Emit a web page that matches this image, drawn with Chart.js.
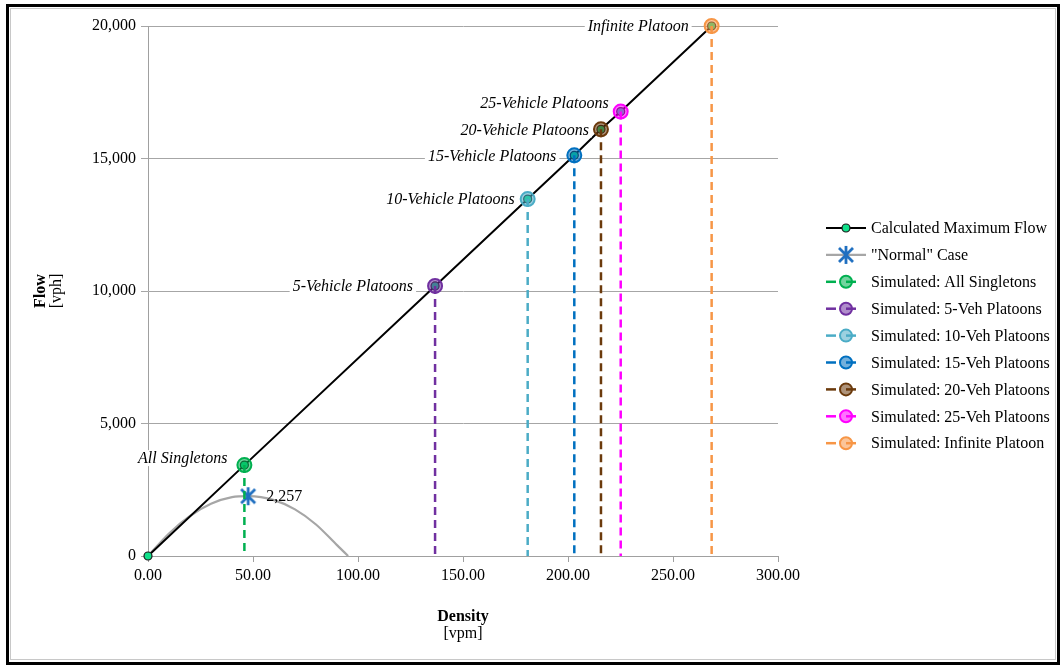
<!DOCTYPE html>
<html>
<head>
<meta charset="utf-8">
<title>Flow vs Density</title>
<script src="https://cdn.jsdelivr.net/npm/chart.js@4/dist/chart.umd.min.js"></script>
<style>
  html, body { margin: 0; padding: 0; background: #ffffff; }
  #wrap { position: relative; width: 1060px; height: 666px; }
</style>
</head>
<body>
<div id="wrap"><canvas id="chart" width="1060" height="666"></canvas></div>
<script>
// ---- data ----
const simulatedNames = ['All Singletons', '5-Veh Platoons', '10-Veh Platoons', '15-Veh Platoons',
                        '20-Veh Platoons', '25-Veh Platoons', 'Infinite Platoon'];
const pointLabels = ['All Singletons', '5-Vehicle Platoons', '10-Vehicle Platoons', '15-Vehicle Platoons',
                     '20-Vehicle Platoons', '25-Vehicle Platoons', 'Infinite Platoon'];
const simDensity = [45.9, 136.7, 180.8, 203.0, 215.7, 225.1, 268.4];   // vpm
const simFlow    = [3430, 10190, 13470, 15120, 16100, 16770, 20000];   // vph

const normalDensity = [0, 10, 20, 30, 40, 47.7, 60, 70, 80, 90, 95.3];
const normalFlow    = [0, 850, 1510, 1970, 2220, 2257, 2110, 1760, 1190, 410, 0];
const normalPeakIndex = 5;

const xTickValues = [0, 50, 100, 150, 200, 250, 300];
const yTickValues = [0, 5000, 10000, 15000, 20000];

// ---- styles ----
const simColors = ['#00b050', '#7030a0', '#4bacc6', '#0070c0', '#6b3a0c', '#ff00ff', '#f79646'];
const simFills  = ['rgba(0,176,80,0.55)', 'rgba(112,48,160,0.55)', 'rgba(75,172,198,0.55)',
                   'rgba(0,112,192,0.55)', 'rgba(107,58,12,0.55)', 'rgba(255,0,255,0.55)',
                   'rgba(247,150,70,0.55)'];
// label placement: [dx to right edge of text, dy of text centre], px relative to the marker
const labelOffsets = [[-17, -7], [-22, 0], [-13, 0], [-18, 0], [-12, 0], [-12, -9], [-23, 0]];

const SERIF = '"Liberation Serif", "Times New Roman", serif';

// asterisk-like marker for the "Normal" case peak
function makeStarMarker(color) {
  const c = document.createElement('canvas');
  c.width = 20; c.height = 20;
  const g = c.getContext('2d');
  g.strokeStyle = color; g.lineWidth = 2.8; g.lineCap = 'butt';
  g.beginPath();
  g.moveTo(3, 3); g.lineTo(17, 17);
  g.moveTo(17, 3); g.lineTo(3, 17);
  g.moveTo(10, 1); g.lineTo(10, 19);
  g.stroke();
  return c;
}
const starMarker = makeStarMarker('#1f6fc0');

// ---- datasets ----
const calcPoints = [{x: 0, y: 0}].concat(simDensity.map((d, i) => ({x: d, y: simFlow[i]})));
const normalPoints = normalDensity.map((d, i) => ({x: d, y: normalFlow[i]}));

const datasets = [
  {
    label: 'Calculated Maximum Flow',
    data: calcPoints,
    showLine: true,
    borderColor: '#000000',
    borderWidth: 2,
    pointRadius: 4,
    pointBackgroundColor: '#10e08a',
    pointBorderColor: '#1a1a1a',
    pointBorderWidth: 1.2,
    order: 2,
    clip: false
  },
  {
    label: '"Normal" Case',
    data: normalPoints,
    showLine: true,
    borderColor: '#a6a6a6',
    borderWidth: 2.2,
    cubicInterpolationMode: 'monotone',
    pointStyle: starMarker,
    pointRadius: normalPoints.map((p, i) => i === normalPeakIndex ? 9 : 0),
    order: 3,
    clip: false
  }
].concat(simDensity.map((d, i) => ({
  label: 'Simulated: ' + simulatedNames[i],
  data: [{x: d, y: simFlow[i]}, {x: d, y: 0}],
  showLine: true,
  borderColor: simColors[i],
  borderWidth: 2.5,
  borderDash: [8, 5],
  pointRadius: [7, 0],
  pointBackgroundColor: simFills[i],
  pointBorderColor: simColors[i],
  pointBorderWidth: 2,
  order: 1,
  clip: false
})));

// ---- plugins ----
const pointLabelPlugin = {
  id: 'pointLabels',
  afterDatasetsDraw(chart) {
    const {ctx, scales: {x, y}} = chart;
    ctx.save();
    ctx.font = 'italic 16px ' + SERIF;
    ctx.textBaseline = 'middle';
    pointLabels.forEach((txt, i) => {
      const px = x.getPixelForValue(simDensity[i]);
      const py = y.getPixelForValue(simFlow[i]);
      const right = px + labelOffsets[i][0];
      const cy = py + labelOffsets[i][1];
      const w = ctx.measureText(txt).width;
      ctx.fillStyle = '#ffffff';
      ctx.fillRect(right - w - 3, cy - 8, w + 6, 16);
      ctx.fillStyle = '#000000';
      ctx.textAlign = 'right';
      ctx.fillText(txt, right, cy + 1);
    });
    // value label at the peak of the "Normal" curve
    const nx = x.getPixelForValue(normalDensity[normalPeakIndex]);
    const ny = y.getPixelForValue(normalFlow[normalPeakIndex]);
    ctx.font = '16px ' + SERIF;
    ctx.textAlign = 'left';
    ctx.fillStyle = '#000000';
    ctx.fillText(normalFlow[normalPeakIndex].toLocaleString('en-US'), nx + 18, ny + 1);
    ctx.restore();
  }
};

const framePlugin = {
  id: 'frameAndTitles',
  afterDraw(chart) {
    const {ctx, chartArea} = chart;
    ctx.save();
    // axis titles
    ctx.fillStyle = '#000000';
    ctx.textAlign = 'center';
    ctx.textBaseline = 'middle';
    const midX = (chartArea.left + chartArea.right) / 2;
    const midY = (chartArea.top + chartArea.bottom) / 2;
    ctx.font = 'bold 16px ' + SERIF;
    ctx.fillText('Density', midX, 617);
    ctx.font = '16px ' + SERIF;
    ctx.fillText('[vpm]', midX, 634);
    ctx.translate(41, midY);
    ctx.rotate(-Math.PI / 2);
    ctx.font = 'bold 16px ' + SERIF;
    ctx.fillText('Flow', 0, 0);
    ctx.font = '16px ' + SERIF;
    ctx.fillText('[vph]', 0, 16);
    ctx.restore();

    // legend
    ctx.save();
    const lx0 = 826, lx1 = 866, ltext = 871, ly0 = 228, lstep = 26.9;
    chart.data.datasets.forEach((ds, i) => {
      const yy = ly0 + i * lstep;
      ctx.save();
      ctx.strokeStyle = ds.borderColor;
      ctx.lineWidth = ds.borderWidth;
      ctx.setLineDash(ds.borderDash ? [10, 10] : []);
      ctx.lineDashOffset = 0;
      ctx.beginPath();
      ctx.moveTo(lx0, yy);
      ctx.lineTo(lx1, yy);
      ctx.stroke();
      ctx.setLineDash([]);
      const r = Array.isArray(ds.pointRadius) ? Math.max(...ds.pointRadius) : ds.pointRadius;
      const mr = ds.pointStyle ? r : Math.min(r, 6);
      ctx.fillStyle = ds.pointBackgroundColor || '#fff';
      ctx.strokeStyle = ds.pointBorderColor || ds.borderColor;
      ctx.lineWidth = ds.pointBorderWidth || 1;
      Chart.helpers.drawPoint(ctx, {
        pointStyle: ds.pointStyle || 'circle', rotation: 0,
        radius: mr, borderWidth: ds.pointBorderWidth || 1
      }, (lx0 + lx1) / 2, yy);
      ctx.restore();
      ctx.fillStyle = '#000000';
      ctx.font = '16px ' + SERIF;
      ctx.textAlign = 'left';
      ctx.textBaseline = 'middle';
      ctx.fillText(ds.label, ltext, yy + 1);
    });
    ctx.restore();

    // outer frame
    ctx.save();
    ctx.strokeStyle = '#c8c8c8';
    ctx.lineWidth = 1;
    ctx.strokeRect(10.5, 8.5, 1045, 651);
    ctx.strokeStyle = '#000000';
    ctx.lineWidth = 3;
    ctx.strokeRect(7.5, 5.5, 1051, 658);
    ctx.restore();
  }
};

// ---- chart ----
const tickFont = {family: SERIF, size: 16};
new Chart(document.getElementById('chart'), {
  type: 'scatter',
  data: {datasets},
  options: {
    responsive: false,
    animation: false,
    devicePixelRatio: 1,
    layout: {padding: {left: 0, right: 282, top: 26, bottom: 0}},
    plugins: {legend: {display: false}, tooltip: {enabled: false}},
    scales: {
      x: {
        type: 'linear',
        min: xTickValues[0],
        max: xTickValues[xTickValues.length - 1],
        afterBuildTicks(s) { s.ticks = xTickValues.map(v => ({value: v})); },
        ticks: {callback: v => Number(v).toFixed(2), font: tickFont, color: '#000000',
                padding: 4, maxRotation: 0, autoSkip: false},
        grid: {drawOnChartArea: false, drawTicks: true, tickLength: 6, color: '#a0a0a0'},
        border: {color: '#a0a0a0', width: 1},
        afterFit(s) { s.height = 110; }
      },
      y: {
        type: 'linear',
        min: yTickValues[0],
        max: yTickValues[yTickValues.length - 1],
        afterBuildTicks(s) { s.ticks = yTickValues.map(v => ({value: v})); },
        ticks: {callback: v => Number(v).toLocaleString('en-US'), font: tickFont, color: '#000000',
                padding: 5, autoSkip: false},
        grid: {color: '#a6a6a6', tickLength: 7, drawTicks: true},
        border: {color: '#a0a0a0', width: 1},
        afterFit(s) { s.width = 148; }
      }
    }
  },
  plugins: [pointLabelPlugin, framePlugin]
});
</script>
</body>
</html>
